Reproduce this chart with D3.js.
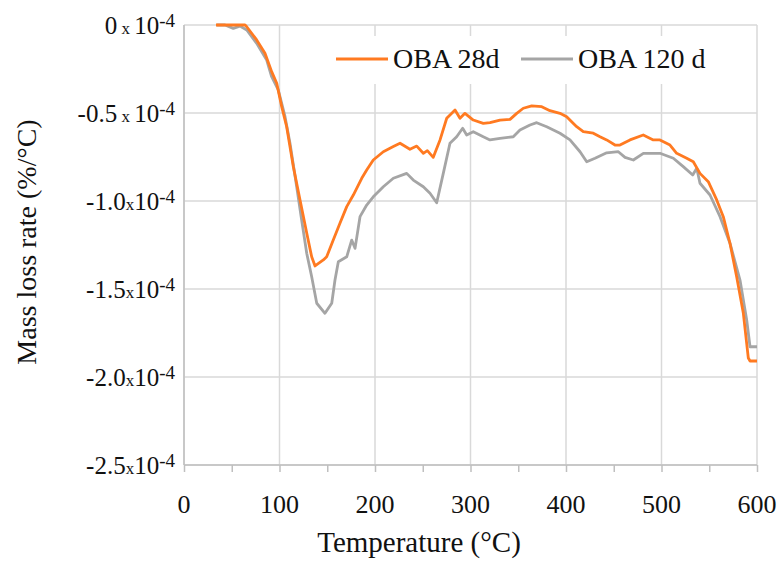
<!DOCTYPE html>
<html><head><meta charset="utf-8">
<script src="https://cdn.jsdelivr.net/npm/d3@7"></script>
<style>body{margin:0;background:#fff} text{font-family:"Liberation Serif","DejaVu Serif",serif;}</style>
</head><body><svg id="c" width="780" height="563"></svg>
<script>
// values are in units of 10^-4 %/°C
const seriesNames = ["OBA 28d", "OBA 120 d"];
const seriesColors = ["#FF7A21", "#A5A5A5"];

const temp28 = [33.5,63.9,65.7,76.1,84.8,91.8,97.1,102.3,107.5,114.5,121.5,128.5,133.7,137.2,145.9,149.4,156.3,163.4,170.4,177.3,186.1,191.3,198.2,208.7,219.2,226.2,236.6,243.7,250.6,254.8,261.0,268.1,275.1,283.8,289.0,294.2,302.9,313.4,320.4,330.9,341.4,348.4,355.3,364.1,374.6,383.2,393.7,400.7,411.2,418.1,428.6,435.6,442.6,451.3,456.5,467.0,480.9,491.4,498.4,508.9,515.9,526.4,533.3,540.3,549.0,557.8,564.7,571.7,578.7,585.7,590.9,592.7,600];
const rate28 = [0,0,-0.010,-0.085,-0.161,-0.265,-0.331,-0.464,-0.578,-0.805,-0.994,-1.182,-1.317,-1.369,-1.335,-1.317,-1.222,-1.125,-1.032,-0.966,-0.871,-0.824,-0.767,-0.720,-0.691,-0.672,-0.706,-0.688,-0.729,-0.714,-0.752,-0.653,-0.530,-0.483,-0.530,-0.502,-0.540,-0.559,-0.555,-0.540,-0.536,-0.502,-0.473,-0.460,-0.464,-0.487,-0.502,-0.521,-0.578,-0.606,-0.615,-0.635,-0.653,-0.682,-0.682,-0.653,-0.625,-0.653,-0.653,-0.682,-0.729,-0.757,-0.777,-0.843,-0.890,-0.994,-1.089,-1.240,-1.430,-1.638,-1.892,-1.909,-1.909];

const temp120 = [34.2,42.9,51.6,58.6,65.7,76.1,86.6,91.8,98.7,105.8,111.0,118.0,123.2,128.5,133.7,139.0,147.6,154.7,158.1,161.6,170.4,175.6,179.1,184.3,191.3,198.2,208.7,219.2,233.2,240.1,250.6,257.6,264.6,271.5,278.5,285.5,291.8,296.0,302.9,313.4,320.4,330.9,344.8,351.8,362.3,369.3,379.8,393.7,404.2,414.7,421.7,430.4,442.6,454.8,461.8,470.5,481.0,498.4,512.4,522.8,532.7,536.9,540.3,550.8,561.3,571.7,582.2,589.2,592.7,600];
const rate120 = [0,0,-0.019,-0.006,-0.028,-0.104,-0.199,-0.294,-0.369,-0.521,-0.672,-0.919,-1.108,-1.297,-1.430,-1.581,-1.638,-1.581,-1.449,-1.345,-1.317,-1.222,-1.269,-1.089,-1.023,-0.976,-0.919,-0.871,-0.843,-0.881,-0.919,-0.956,-1.010,-0.843,-0.672,-0.635,-0.587,-0.625,-0.606,-0.635,-0.653,-0.644,-0.635,-0.597,-0.568,-0.555,-0.578,-0.615,-0.653,-0.720,-0.777,-0.757,-0.726,-0.720,-0.752,-0.767,-0.729,-0.729,-0.757,-0.805,-0.852,-0.814,-0.899,-0.966,-1.089,-1.240,-1.449,-1.676,-1.828,-1.828];

const xTicks = [0, 100, 200, 300, 400, 500, 600];
const xMinorTicks = [0, 50, 100, 150, 200, 250, 300, 350, 400, 450, 500, 550, 600];
const yTicks = [0, -0.5, -1.0, -1.5, -2.0, -2.5];
const yTickMantissa = ["0", "-0.5", "-1.0", "-1.5", "-2.0", "-2.5"];
const yTickSep = [" x ", " x ", "x", "x", "x", "x"];
const xTitle = "Temperature (°C)";
const yTitle = "Mass loss rate (%/°C)";

const svg = d3.select("#c");
const x = d3.scaleLinear().domain([0, 600]).range([184, 757]);
const y = d3.scaleLinear().domain([-2.5, 0]).range([465, 25]);

// grid
svg.append("g").selectAll("line").data(yTicks).join("line")
  .attr("x1", x(0)).attr("x2", x(600)).attr("y1", d => y(d)).attr("y2", d => y(d))
  .attr("stroke", "#D9D9D9").attr("stroke-width", 1.5);
svg.append("g").selectAll("line").data(xTicks).join("line")
  .attr("x1", d => x(d)).attr("x2", d => x(d)).attr("y1", y(0)).attr("y2", y(-2.5))
  .attr("stroke", "#D9D9D9").attr("stroke-width", 1.5);

// axes
const xAxis = d3.axisBottom(x).tickValues(xMinorTicks).tickSize(7).tickFormat("");
const gx = svg.append("g").attr("transform", `translate(0,${y(-2.5)})`).call(xAxis);
gx.selectAll("path,line").attr("stroke", "#BFBFBF").attr("stroke-width", 1.5);
gx.select(".domain").attr("d", `M${x(0)},0H${x(600)}`);
svg.append("line").attr("x1", x(0)).attr("x2", x(0)).attr("y1", y(0)).attr("y2", y(-2.5))
  .attr("stroke", "#BFBFBF").attr("stroke-width", 1.5);

// x tick labels
svg.append("g").selectAll("text").data(xTicks).join("text")
  .attr("x", d => x(d)).attr("y", 513).attr("text-anchor", "middle")
  .attr("font-size", 26).attr("fill", "#111")
  .text(d => d);

// y tick labels
const yl = svg.append("g").selectAll("text").data(yTicks).join("text")
  .attr("x", 175).attr("y", d => y(d) + 8.5).attr("text-anchor", "end")
  .attr("fill", "#111").style("white-space", "pre");
yl.append("tspan").attr("font-size", 25).text((d, i) => yTickMantissa[i]);
yl.append("tspan").attr("font-size", 17).text((d, i) => yTickSep[i]);
yl.append("tspan").attr("font-size", 25).text("10");
yl.append("tspan").attr("font-size", 19).attr("dy", -7).text("-4");

// lines
const line = d3.line().x(d => x(d[0])).y(d => y(d[1]));
const s120 = temp120.map((t, i) => [t, rate120[i]]);
const s28 = temp28.map((t, i) => [t, rate28[i]]);
svg.append("path").datum(s120).attr("d", line).attr("fill", "none")
  .attr("stroke", seriesColors[1]).attr("stroke-width", 2.8).attr("stroke-linejoin", "round");
svg.append("path").datum(s28).attr("d", line).attr("fill", "none")
  .attr("stroke", seriesColors[0]).attr("stroke-width", 2.8).attr("stroke-linejoin", "round");

// legend
svg.append("rect").attr("x", 328).attr("y", 36).attr("width", 414).attr("height", 48).attr("fill", "#fff");
const legX = [336, 521];
seriesNames.forEach((n, i) => {
  svg.append("line").attr("x1", legX[i]).attr("x2", legX[i] + 52).attr("y1", 59).attr("y2", 59)
    .attr("stroke", seriesColors[i]).attr("stroke-width", 3);
  svg.append("text").attr("x", legX[i] + 57).attr("y", 68)
    .attr("font-size", 28).attr("fill", "#111").text(n);
});

// titles
svg.append("text").attr("x", 419).attr("y", 552).attr("text-anchor", "middle")
  .attr("font-size", 29).attr("fill", "#111").text(xTitle);
svg.append("text").attr("transform", "translate(36,242) rotate(-90)").attr("text-anchor", "middle")
  .attr("font-size", 28).attr("fill", "#111").text(yTitle);
</script></body></html>
